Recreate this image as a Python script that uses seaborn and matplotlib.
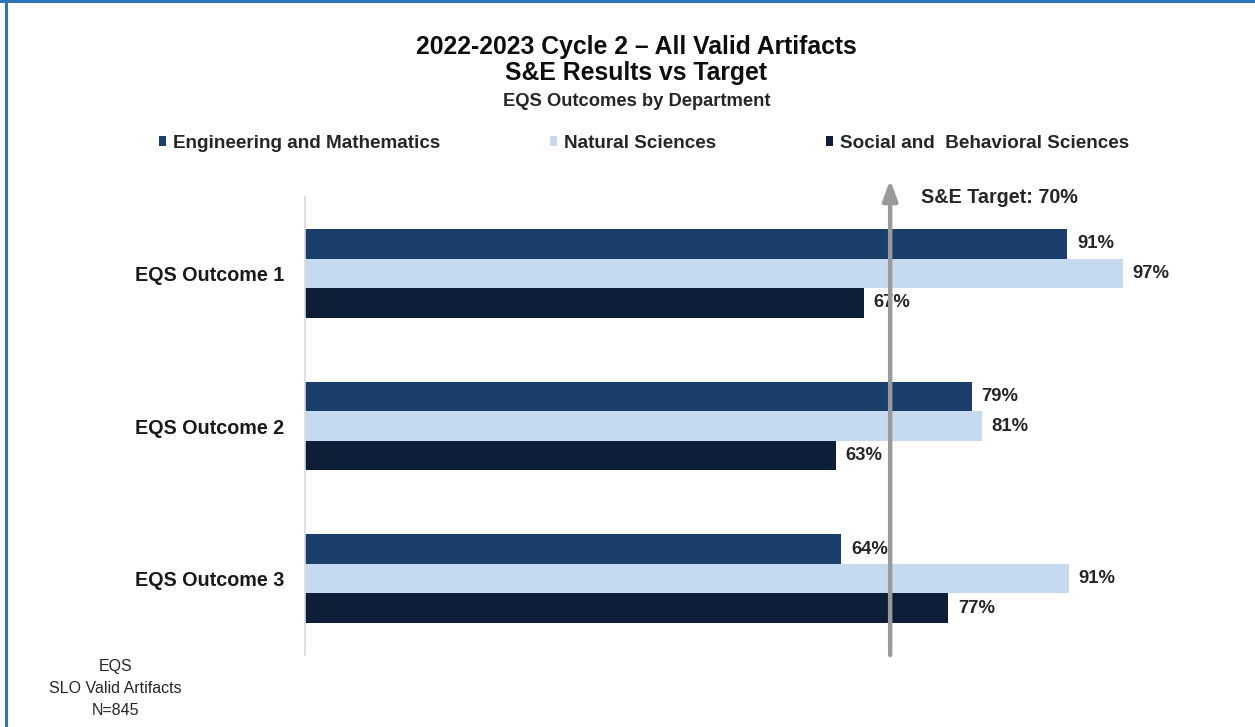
import pandas as pd
import matplotlib.pyplot as plt
import seaborn as sns
from matplotlib.patches import Patch
from matplotlib.lines import Line2D

# --- data (bar lengths estimated, labels rounded) ---
outcomes = ['EQS Outcome 1', 'EQS Outcome 2', 'EQS Outcome 3']
departments = ['Engineering and Mathematics', 'Natural Sciences', 'Social and  Behavioral Sciences']
eng_math = [90.8, 79.4, 63.9]
nat_sci = [97.4, 80.6, 91.0]
soc_beh = [66.6, 63.2, 76.6]
target = 70
colors = ['#1a3f6b', '#c5d9f1', '#0d1f38']

rows = []
for dept, vals in zip(departments, [eng_math, nat_sci, soc_beh]):
    for outc, v in zip(outcomes, vals):
        rows.append({'outcome': outc, 'department': dept, 'pct': v})
df = pd.DataFrame(rows)

sns.set_style('white')
plt.rcParams['font.family'] = ['Liberation Sans', 'DejaVu Sans']

fig = plt.figure(figsize=(12.55, 7.27), dpi=100)
ax = fig.add_axes([0.243, 0.099, 0.669, 0.630])

sns.barplot(data=df, y='outcome', x='pct', hue='department', orient='h',
            palette=colors, width=0.58, ax=ax, legend=False, saturation=1,
            edgecolor='none')

ax.set_xlim(0, 100)
ax.set_ylim(2.5, -0.5)
ax.set_xlabel('')
ax.set_ylabel('')
ax.set_xticks([])
ax.tick_params(axis='y', length=0, pad=15)
for lab in ax.get_yticklabels():
    lab.set_fontsize(14.2)
    lab.set_fontweight('bold')
    lab.set_color('#1a1a1a')
for side in ['top', 'right', 'bottom']:
    ax.spines[side].set_visible(False)
ax.spines['left'].set_color('#d9d9d9')
ax.spines['left'].set_linewidth(1.2)

# value labels
for cont in ax.containers:
    ax.bar_label(cont, labels=[f'{v:.0f}%' for v in cont.datavalues], padding=7,
                 fontsize=13.3, fontweight='bold', color='#262626')

# target arrow
trans = ax.get_xaxis_transform()
ax.annotate('', xy=(target - 0.3, 1.037), xytext=(target - 0.3, 0), xycoords=trans, textcoords=trans,
            arrowprops=dict(arrowstyle='-|>,head_width=0.45,head_length=1.2',
                            color='#9a9a9a', lw=3.2, shrinkA=0, shrinkB=0),
            zorder=10, annotation_clip=False)
ax.text(target + 3.4, 0.998, 'S&E Target: 70%', transform=trans, fontsize=14.2,
        fontweight='bold', color='#262626', va='center', ha='left')

# titles
fig.text(0.507, 0.936, '2022-2023 Cycle 2 \u2013 All Valid Artifacts', ha='center', va='center',
         fontsize=17.8, fontweight='bold', color='#0d0d0d')
fig.text(0.507, 0.899, 'S&E Results vs Target', ha='center', va='center',
         fontsize=17.8, fontweight='bold', color='#0d0d0d')
fig.text(0.507, 0.860, 'EQS Outcomes by Department', ha='center', va='center',
         fontsize=13.2, fontweight='bold', color='#262626')

# legend
handles = [Patch(facecolor=c, edgecolor='none') for c in colors]
leg = fig.legend(handles, departments, loc='center', bbox_to_anchor=(0.513, 0.803), ncol=3,
                 frameon=False, handlelength=0.4, handleheight=0.4, handletextpad=0.35,
                 columnspacing=5.8, prop={'weight': 'bold', 'size': 13.6})
for t in leg.get_texts():
    t.set_color('#262626')

# footnote
fig.text(0.092, 0.053, 'EQS\nSLO Valid Artifacts\nN=845', ha='center', va='center',
         fontsize=11.5, color='#262626', linespacing=1.6)

# blue frame on top and left edges
fig.add_artist(Line2D([0, 1], [0.998, 0.998], transform=fig.transFigure, color='#2e75b6', lw=2.2))
fig.add_artist(Line2D([0.005, 0.005], [0, 1], transform=fig.transFigure, color='#2e75b6', lw=2.2))

fig.savefig('out.png', dpi=100)
